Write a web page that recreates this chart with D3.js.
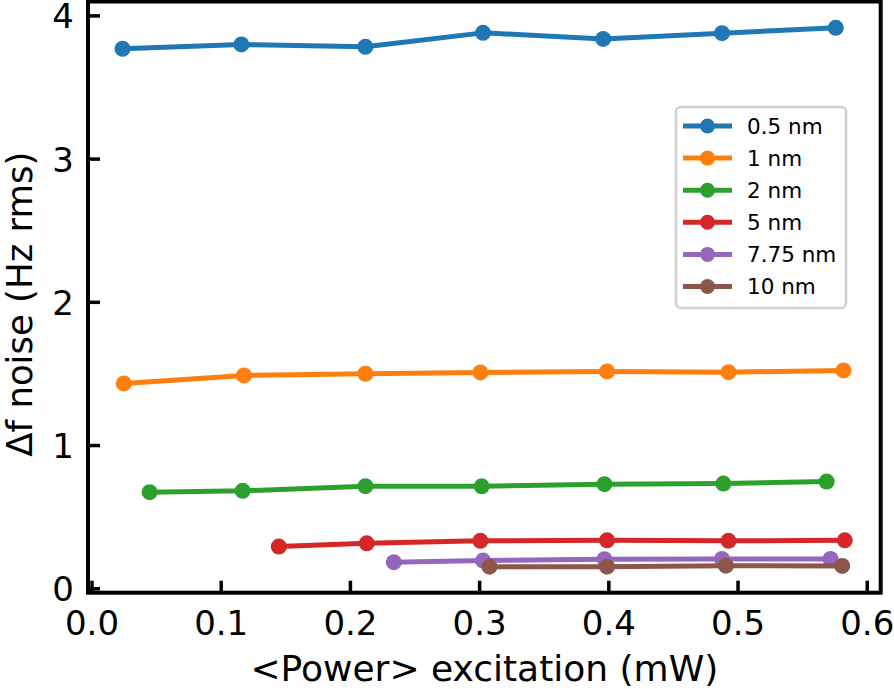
<!DOCTYPE html>
<html>
<head>
<meta charset="utf-8">
<script src="https://cdn.jsdelivr.net/npm/d3@7/dist/d3.min.js"></script>
<style>
html,body{margin:0;padding:0;background:#fff;}
svg{display:block;}
text{font-family:"DejaVu Sans",sans-serif;fill:#000;}
</style>
</head>
<body>
<svg id="chart" width="894" height="689"></svg>
<script>
// ---- data ----
const seriesNames = ["0.5 nm", "1 nm", "2 nm", "5 nm", "7.75 nm", "10 nm"];
const seriesColors = ["#1f77b4", "#ff7f0e", "#2ca02c", "#d62728", "#9467bd", "#8c564b"];

const x05 = [0.024, 0.116, 0.212, 0.303, 0.396, 0.488, 0.576];
const y05 = [3.767, 3.797, 3.781, 3.878, 3.836, 3.876, 3.913];
const x1 = [0.025, 0.118, 0.212, 0.301, 0.399, 0.493, 0.582];
const y1 = [1.430, 1.486, 1.498, 1.507, 1.514, 1.509, 1.521];
const x2 = [0.045, 0.117, 0.212, 0.302, 0.397, 0.489, 0.569];
const y2 = [0.671, 0.680, 0.713, 0.712, 0.727, 0.731, 0.745];
const x5 = [0.145, 0.213, 0.301, 0.399, 0.493, 0.583];
const y5 = [0.291, 0.314, 0.331, 0.335, 0.331, 0.335];
const x775 = [0.234, 0.303, 0.397, 0.488, 0.572];
const y775 = [0.182, 0.193, 0.203, 0.205, 0.205];
const x10 = [0.308, 0.399, 0.491, 0.581];
const y10 = [0.151, 0.151, 0.158, 0.156];

const xTicks = [0.0, 0.1, 0.2, 0.3, 0.4, 0.5, 0.6];
const yTicks = [0, 1, 2, 3, 4];
const xLabel = "<Power> excitation (mW)";
const yLabel = "Δf noise (Hz rms)";

const seriesX = [x05, x1, x2, x5, x775, x10];
const seriesY = [y05, y1, y2, y5, y775, y10];
const series = seriesNames.map((name, i) => ({
  name, color: seriesColors[i],
  pts: seriesX[i].map((x, j) => ({x, y: seriesY[i][j]}))
}));

// ---- layout ----
const L = 88, R = 880.7, T = 1.5, B = 592.7;
const svg = d3.select("#chart");
const x = d3.scaleLinear().domain([-0.0027, 0.6108]).range([L, R]);
const y = d3.scaleLinear().domain([-0.031, 4.097]).range([B, T]);

// lines
const line = d3.line().x(d => x(d.x)).y(d => y(d.y));
const g = svg.append("g");
series.forEach(s => {
  const sg = g.append("g");
  sg.append("path").datum(s.pts).attr("d", line)
    .attr("fill", "none").attr("stroke", s.color).attr("stroke-width", 5)
    .attr("stroke-linejoin", "round");
  sg.selectAll("circle").data(s.pts).join("circle")
    .attr("cx", d => x(d.x)).attr("cy", d => y(d.y)).attr("r", 8)
    .attr("fill", s.color);
});

// axes
const fs = 34;
const xAxis = d3.axisBottom(x).tickValues(xTicks).tickFormat(d3.format(".1f"))
  .tickSizeInner(-12).tickSizeOuter(0).tickPadding(16);
const yAxis = d3.axisLeft(y).tickValues(yTicks).tickFormat(d3.format("d"))
  .tickSizeInner(-12).tickSizeOuter(0).tickPadding(14);

const gx = svg.append("g").attr("transform", `translate(0,${B})`).call(xAxis);
const gy = svg.append("g").attr("transform", `translate(${L},0)`).call(yAxis);
[gx, gy].forEach(a => {
  a.select(".domain").remove();
  a.selectAll(".tick line").attr("stroke", "#000").attr("stroke-width", 3.5);
  a.selectAll(".tick text").attr("font-size", fs).attr("font-family", "DejaVu Sans").attr("fill", "#000");
});
gx.selectAll(".tick text").attr("dy", "0.78em");
gy.selectAll(".tick text").attr("dy", "0.37em");

// frame
svg.append("rect").attr("x", L).attr("y", T).attr("width", R - L).attr("height", B - T)
  .attr("fill", "none").attr("stroke", "#000").attr("stroke-width", 4);

// labels
svg.append("text").attr("x", (L + R) / 2).attr("y", 681).attr("text-anchor", "middle")
  .attr("font-size", 36).text(xLabel);
svg.append("text").attr("transform", `translate(32,${(T + B) / 2 + 7}) rotate(-90)`)
  .attr("text-anchor", "middle").attr("font-size", 35.5).text(yLabel);

// legend
const lg = svg.append("g");
lg.append("rect").attr("x", 676).attr("y", 107).attr("width", 170).attr("height", 201)
  .attr("rx", 5).attr("fill", "#fff").attr("fill-opacity", 0.8)
  .attr("stroke", "#d0d0d0").attr("stroke-width", 2.5);
series.forEach((s, i) => {
  const cy = 126 + i * 32.1;
  lg.append("line").attr("x1", 683).attr("x2", 732).attr("y1", cy).attr("y2", cy)
    .attr("stroke", s.color).attr("stroke-width", 5);
  lg.append("circle").attr("cx", 707.5).attr("cy", cy).attr("r", 7.5).attr("fill", s.color);
  lg.append("text").attr("x", 747).attr("y", cy).attr("dy", "0.36em")
    .attr("font-size", 21.5).text(s.name);
});
</script>
</body>
</html>
